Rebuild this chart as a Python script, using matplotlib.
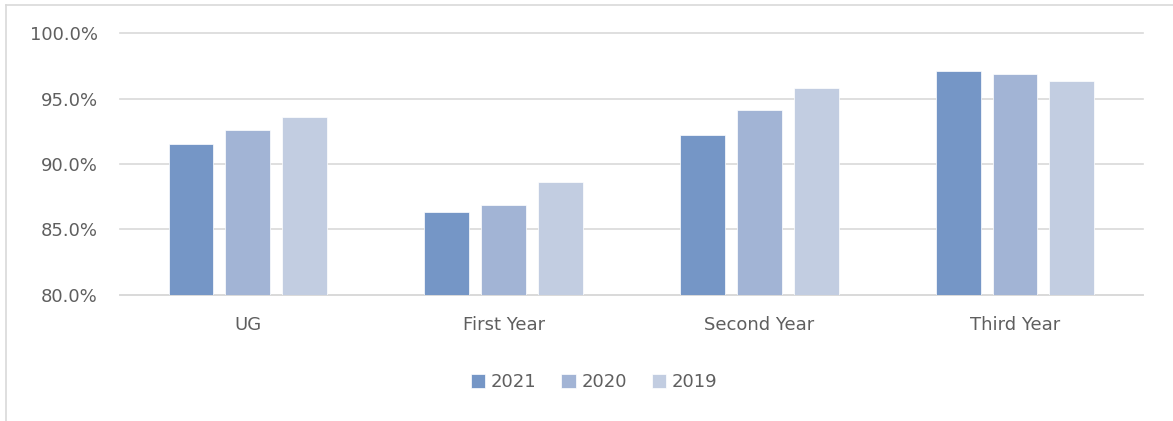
import numpy as np
from matplotlib import pyplot as plt
from matplotlib.lines import Line2D
from matplotlib.ticker import FuncFormatter

categories = ["UG", "First Year", "Second Year", "Third Year"]
years = ["2021", "2020", "2019"]
rate_2021 = [91.5, 86.3, 92.2, 97.1]
rate_2020 = [92.6, 86.9, 94.1, 96.9]
rate_2019 = [93.6, 88.6, 95.8, 96.3]
colors = ["#7596C6", "#A2B4D5", "#C2CDE1"]

plt.rcParams['font.family'] = ['DejaVu Sans']
text_color = "#5F5F5F"

fig = plt.figure(figsize=(11.73, 4.21), dpi=100)
ax = fig.add_axes([0.1023, 0.2993, 0.8721, 0.6223])

x = np.arange(len(categories))
step = 0.222
w = 0.175
for i, (vals, yr) in enumerate(zip([rate_2021, rate_2020, rate_2019], years)):
    ax.bar(x + (i - 1) * step, vals, width=w, color=colors[i], label=yr,
           edgecolor="white", linewidth=0.5, zorder=3)

ax.set_ylim(80, 100)
ax.set_xlim(-0.5, len(categories) - 0.5)
ax.set_yticks(np.arange(80, 100.1, 5))
ax.yaxis.set_major_formatter(FuncFormatter(lambda v, p: f"{v:.1f}%"))
ax.set_xticks(x)
ax.set_xticklabels(categories)
ax.grid(axis="y", color="#D9D9D9", linewidth=1.2, zorder=0)
for gl in ax.get_ygridlines():
    gl.set_clip_on(False)
for s in ["top", "right", "left"]:
    ax.spines[s].set_visible(False)
ax.spines["bottom"].set_color("#D9D9D9")
ax.spines["bottom"].set_linewidth(1.2)
ax.tick_params(axis="both", length=0, labelsize=13, colors=text_color)
ax.tick_params(axis="x", pad=15)
ax.tick_params(axis="y", pad=16)

leg = fig.legend(loc="center", bbox_to_anchor=(0.5064, 0.0926), ncol=3, frameon=False,
                 fontsize=13, handlelength=0.8, handleheight=0.8, handletextpad=0.3,
                 columnspacing=1.4)
for t in leg.get_texts():
    t.set_color(text_color)

# outer chart border (top and left visible)
fig.add_artist(Line2D([0.005, 0.005], [0.0, 0.988], color="#D9D9D9", lw=1.2))
fig.add_artist(Line2D([0.005, 1.0], [0.988, 0.988], color="#D9D9D9", lw=1.2))

fig.savefig("out.png", dpi=100)
